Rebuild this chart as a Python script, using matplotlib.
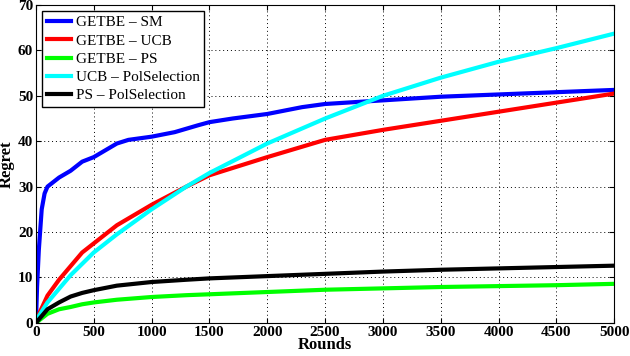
import numpy as np
import matplotlib.pyplot as plt

plt.rcParams['font.family'] = ['Liberation Serif', 'DejaVu Serif']
plt.rcParams['font.weight'] = 'bold'

rounds_sm = [0, 10, 25, 50, 75, 100, 150, 200, 300, 400, 500, 600, 700, 800, 1000,
             1200, 1400, 1500, 1700, 2000, 2300, 2500, 3000, 3500, 4000, 4500, 5000]
sm = [0, 8, 16, 25, 28.5, 30, 31, 32, 33.5, 35.5, 36.5, 38, 39.5, 40.3, 41,
      42, 43.5, 44.2, 45, 46, 47.5, 48.2, 49, 49.8, 50.3, 50.8, 51.3]

rounds = [0, 100, 200, 300, 400, 500, 700, 1000, 1300, 1500, 2000, 2500, 3000, 3500, 4000, 4500, 5000]
ucb = [0.5, 6, 9.5, 12.5, 15.5, 17.5, 21.5, 26, 30, 32.5, 36.5, 40.3, 42.5, 44.5, 46.5, 48.5, 50.5]
ucb_pol = [0.5, 4.5, 7.5, 10.5, 13, 15.5, 19.5, 25, 30, 33, 39.5, 45, 50, 54, 57.5, 60.5, 63.7]
ps_pol = [0, 3, 4.5, 5.8, 6.6, 7.2, 8.2, 9, 9.5, 9.8, 10.3, 10.8, 11.3, 11.7, 12, 12.3, 12.6]
ps = [0, 2, 3, 3.5, 4.1, 4.5, 5.1, 5.7, 6.1, 6.3, 6.8, 7.3, 7.6, 7.9, 8.1, 8.3, 8.6]

fig = plt.figure(figsize=(6.3, 3.56), dpi=100)
ax = fig.add_axes([0.057, 0.093, 0.918, 0.893])

lw = 3
ax.plot(rounds_sm, sm, color='#0000ff', lw=lw, label='GETBE \u2013 SM')
ax.plot(rounds, ucb, color='#ff0000', lw=lw, label='GETBE \u2013 UCB')
ax.plot(rounds, ps, color='#00ff00', lw=lw, label='GETBE \u2013 PS')
ax.plot(rounds, ucb_pol, color='#00ffff', lw=lw, label='UCB \u2013 PolSelection')
ax.plot(rounds, ps_pol, color='#000000', lw=lw, label='PS \u2013 PolSelection')

ax.set_xlim(0, 5000)
ax.set_ylim(0, 70)
ax.set_xticks(np.arange(0, 5001, 500))
ax.set_yticks(np.arange(0, 71, 10))
ax.grid(True, color='black', linestyle=(0, (1, 3)), linewidth=0.7)
ax.tick_params(direction='in', labelsize=11, pad=2, top=True, right=True)
ax.set_xlabel('Rounds', fontsize=12, fontweight='bold', labelpad=-1)
ax.set_ylabel('Regret', fontsize=12, fontweight='bold', labelpad=2)

leg = ax.legend(loc='upper left', prop={'size': 11, 'weight': 'normal'},
                handlelength=1.6, handletextpad=0.3,
                labelspacing=0.3, borderpad=0.3, fancybox=False, framealpha=1,
                edgecolor='black', borderaxespad=0.4)
leg.get_frame().set_linewidth(1)

fig.savefig('out.png', dpi=100)
